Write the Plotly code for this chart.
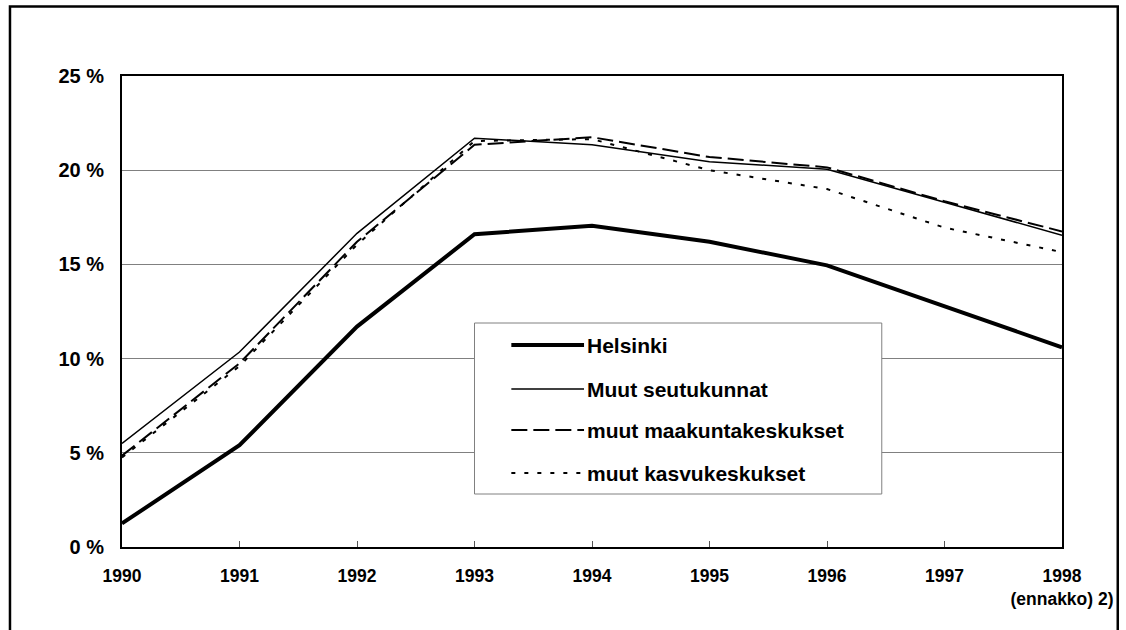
import plotly.graph_objects as go

years = ['1990', '1991', '1992', '1993', '1994', '1995', '1996', '1997', '1998<br>(ennakko) 2)']

helsinki = [1.25, 5.4, 11.7, 16.6, 17.05, 16.2, 14.95, 12.75, 10.6]
muut_seutukunnat = [5.5, 10.35, 16.65, 21.7, 21.35, 20.45, 20.05, 18.3, 16.55]
muut_maakuntakeskukset = [4.85, 9.75, 16.2, 21.35, 21.75, 20.7, 20.15, 18.35, 16.75]
muut_kasvukeskukset = [4.75, 9.6, 16.05, 21.55, 21.65, 20.0, 19.0, 16.95, 15.65]

names = ['Helsinki', 'Muut seutukunnat', 'muut maakuntakeskukset', 'muut kasvukeskukset']
styles = [
    dict(color='black', width=4, dash='solid'),
    dict(color='black', width=1.5, dash='solid'),
    dict(color='black', width=2, dash='16px,6px'),
    dict(color='black', width=2, dash='4px,9px'),
]
series = [helsinki, muut_seutukunnat, muut_maakuntakeskukset, muut_kasvukeskukset]

# plot area in pixels
W, H = 1126, 630
L, R, T, B = 122, 1066, 76, 547


def px(x):
    return (x - L) / (R - L)


def py(y):
    return (B - y) / (B - T)


fig = go.Figure()
# draw thin lines below the thick one
for i in [3, 2, 1, 0]:
    fig.add_trace(go.Scatter(
        x=years, y=series[i], name=names[i], mode='lines',
        line=styles[i], showlegend=False, hoverinfo='skip'))

shapes = []
annotations = []

# outer frame
shapes.append(dict(type='rect', xref='paper', yref='paper',
                   x0=px(9.5), x1=px(1122), y0=py(660), y1=py(6.5),
                   line=dict(color='black', width=2.5), layer='below'))

# legend box, drawn by hand so the samples can be long
shapes.append(dict(type='rect', xref='paper', yref='paper',
                   x0=px(476), x1=px(885), y0=py(494), y1=py(323),
                   fillcolor='white', line=dict(color='#808080', width=1), layer='above'))
legend_y = [345, 389, 430, 473]
for name, st, ly in zip(names, styles, legend_y):
    shapes.append(dict(type='line', xref='paper', yref='paper',
                       x0=px(513), x1=px(586), y0=py(ly), y1=py(ly),
                       line=st, layer='above'))
    annotations.append(dict(xref='paper', yref='paper', x=px(587), y=py(ly),
                            text=name, showarrow=False, xanchor='left', yanchor='middle',
                            font=dict(family='Liberation Sans', size=21, color='black', weight='bold')))

fig.update_layout(
    width=W, height=H, autosize=False,
    margin=dict(l=L, r=W - R, t=T, b=H - B),
    paper_bgcolor='white', plot_bgcolor='white',
    font=dict(family='Liberation Sans', color='black'),
    shapes=shapes, annotations=annotations,
    showlegend=False,
    xaxis=dict(
        type='category', range=[0, 8],
        showline=True, linecolor='black', linewidth=2, mirror=True,
        showgrid=False, zeroline=False,
        ticks='inside', ticklen=6, tickcolor='#555555', tickwidth=1,
        tickfont=dict(size=17.5, weight='bold', color='black'),
        ticklabelstandoff=12,
    ),
    yaxis=dict(
        range=[0, 25], dtick=5, ticksuffix=' %',
        showline=True, linecolor='black', linewidth=2, mirror=True,
        showgrid=True, gridcolor='#808080', gridwidth=1, zeroline=False,
        ticks='',
        tickfont=dict(size=20, weight='bold', color='black'),
        ticklabelstandoff=12,
    ),
)

# no page margin, so the figure sits at the window's corner
fig.write_html('out.html', config={'displayModeBar': False},
               post_script="document.body.style.margin='0';document.body.style.overflow='hidden';")
